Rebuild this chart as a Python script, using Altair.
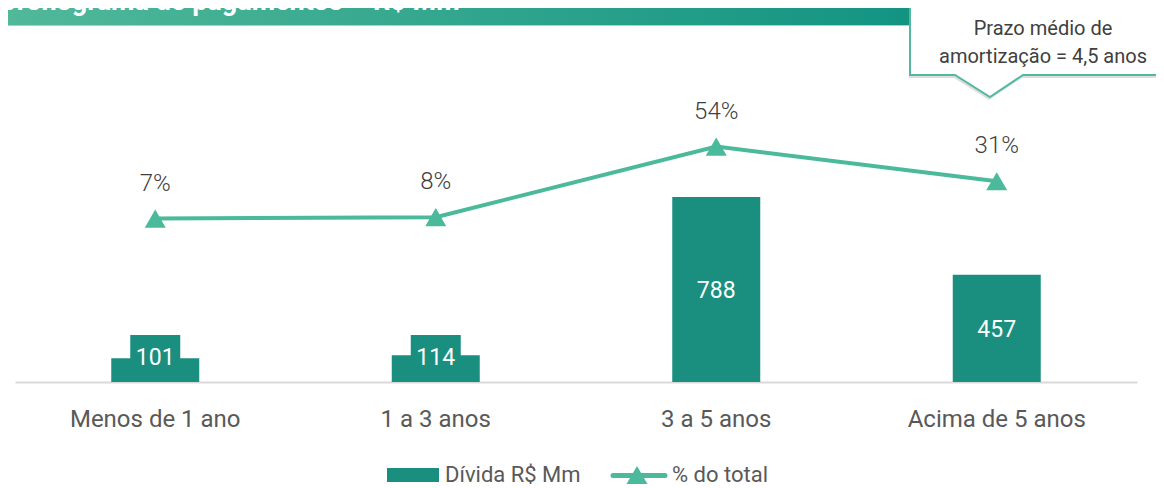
import altair as alt
import pandas as pd

# ---- data ----
categories = ["Menos de 1 ano", "1 a 3 anos", "3 a 5 anos", "Acima de 5 anos"]
divida = [101, 114, 788, 457]            # Dívida R$ Mm
pct_total = [6.9, 7.8, 54.0, 31.3]       # % do total
pct_labels = ["7%", "8%", "54%", "31%"]

title_text = "Cronograma de pagamentos – R$ Mm"
callout_lines = ["Prazo médio de", "amortização = 4,5 anos"]
legend_labels = ["Dívida R$ Mm", "% do total"]

BAR = "#1A8F80"
LINE = "#4BB99B"
CALL = "#52B8A0"
FONT = "Roboto"

df = pd.DataFrame({"cat": categories, "divida": divida, "pct": pct_total, "pct_label": pct_labels})
df["label_pos"] = [max(v / 2, 109) for v in divida]

W, H = 1122, 342
Y1 = [0, 1456.6]
Y2 = [-100, 123.7]

xenc = alt.X("cat:N", sort=categories,
             scale=alt.Scale(type="band", paddingInner=0, paddingOuter=0),
             axis=alt.Axis(title=None, ticks=False, domainColor="#D9D9D9", domainWidth=2,
                           labelFontSize=24, labelColor="#595959", labelFont=FONT,
                           labelPadding=25, labelAngle=0, grid=False))

base = alt.Chart(df)

bars = base.mark_bar(size=88, color=BAR).encode(
    x=xenc, y=alt.Y("divida:Q", scale=alt.Scale(domain=Y1, nice=False), axis=None))

boxes = base.transform_filter(alt.datum.divida < 218).transform_calculate(box_top="200").mark_bar(
    size=50, color=BAR).encode(
    x=xenc, y=alt.Y("box_top:Q", scale=alt.Scale(domain=Y1, nice=False), axis=None))

bar_labels = base.mark_text(color="white", fontSize=23, baseline="middle", font=FONT, dy=2).encode(
    x=xenc, y=alt.Y("label_pos:Q", scale=alt.Scale(domain=Y1, nice=False), axis=None),
    text="divida:Q")

line = base.mark_line(color=LINE, strokeWidth=4).encode(
    x=xenc, y=alt.Y("pct:Q", scale=alt.Scale(domain=Y2, nice=False, zero=False), axis=None))

pts = base.mark_point(shape="triangle-up", filled=True, size=440, color=LINE, opacity=1).encode(
    x=xenc, y=alt.Y("pct:Q", scale=alt.Scale(domain=Y2, nice=False, zero=False), axis=None))

pct_text = base.mark_text(dy=-35, fontSize=24, color="#404040", fontWeight=300, font=FONT,
                          baseline="middle").encode(
    x=xenc, y=alt.Y("pct:Q", scale=alt.Scale(domain=Y2, nice=False, zero=False), axis=None),
    text="pct_label:N")

one = pd.DataFrame({"k": [0]})

banner = alt.Chart(one).mark_rect(
    color=alt.Gradient(gradient="linear",
                       stops=[alt.GradientStop(color="#52B99A", offset=0),
                              alt.GradientStop(color="#00897B", offset=1)],
                       x1=0, x2=1, y1=0, y2=0)
).encode(x=alt.value(-20), x2=alt.value(1160), y=alt.value(-40), y2=alt.value(-14))

banner_line = alt.Chart(one).mark_rule(color="#9FD8C6", strokeWidth=1).encode(
    x=alt.value(-20), x2=alt.value(1160), y=alt.value(-14.5))

title = alt.Chart(pd.DataFrame({"t": [title_text]})).mark_text(
    align="left", baseline="alphabetic", fontSize=27, fontWeight="bold", color="white", font=FONT
).encode(x=alt.value(-16), y=alt.value(-30), text="t:N")

callout_path = ("M-1,-0.354 L1,-0.354 L1,0.192 L-0.131,0.192 L-0.385,0.362 "
                "L-0.654,0.192 L-1,0.192 Z")
shadow = alt.Chart(one).mark_point(shape=callout_path, size=67600, filled=True,
                                   fill="#000000", fillOpacity=0.13, strokeWidth=0).encode(
    x=alt.value(1024), y=alt.value(13))
callout = alt.Chart(one).mark_point(shape=callout_path, size=67600, filled=True,
                                    fill="white", fillOpacity=1, stroke=CALL, strokeWidth=2,
                                    strokeOpacity=1, opacity=1).encode(
    x=alt.value(1025), y=alt.value(10))
callout_text = alt.Chart(pd.DataFrame({"t": ["\n".join(callout_lines)]})).mark_text(
    align="center", baseline="alphabetic", fontSize=20, color="#404040", font=FONT,
    lineBreak="\n", lineHeight=28
).encode(x=alt.value(1028), y=alt.value(-5), text="t:N")

# legend
leg_bar = alt.Chart(one).mark_rect(color=BAR).encode(
    x=alt.value(372), x2=alt.value(424), y=alt.value(428), y2=alt.value(442))
leg_t1 = alt.Chart(pd.DataFrame({"t": [legend_labels[0]]})).mark_text(
    align="left", baseline="middle", fontSize=22, color="#595959", font=FONT).encode(
    x=alt.value(430), y=alt.value(435), text="t:N")
leg_line = alt.Chart(one).mark_rule(color=LINE, strokeWidth=5, strokeCap="round").encode(
    x=alt.value(598), x2=alt.value(650), y=alt.value(435.5))
leg_pt = alt.Chart(one).mark_point(shape="triangle-up", filled=True, size=440, color=LINE,
                                   opacity=1).encode(x=alt.value(622), y=alt.value(435))
leg_t2 = alt.Chart(pd.DataFrame({"t": [legend_labels[1]]})).mark_text(
    align="left", baseline="middle", fontSize=22, color="#595959", font=FONT).encode(
    x=alt.value(657), y=alt.value(435), text="t:N")

chart = alt.layer(
    banner, banner_line, title,
    bars, boxes, bar_labels, line, pts, pct_text,
    shadow, callout, callout_text,
    leg_bar, leg_t1, leg_line, leg_pt, leg_t2
).resolve_scale(y="independent").properties(
    width=W, height=H,
    autosize=alt.AutoSizeParams(type="none"),
    padding={"left": 7, "top": 32, "right": 19, "bottom": 106},
    background="white"
).configure(font=FONT, view=alt.ViewConfig(stroke=None))

chart.save("out.html", embed_options={"renderer": "svg", "actions": False})
